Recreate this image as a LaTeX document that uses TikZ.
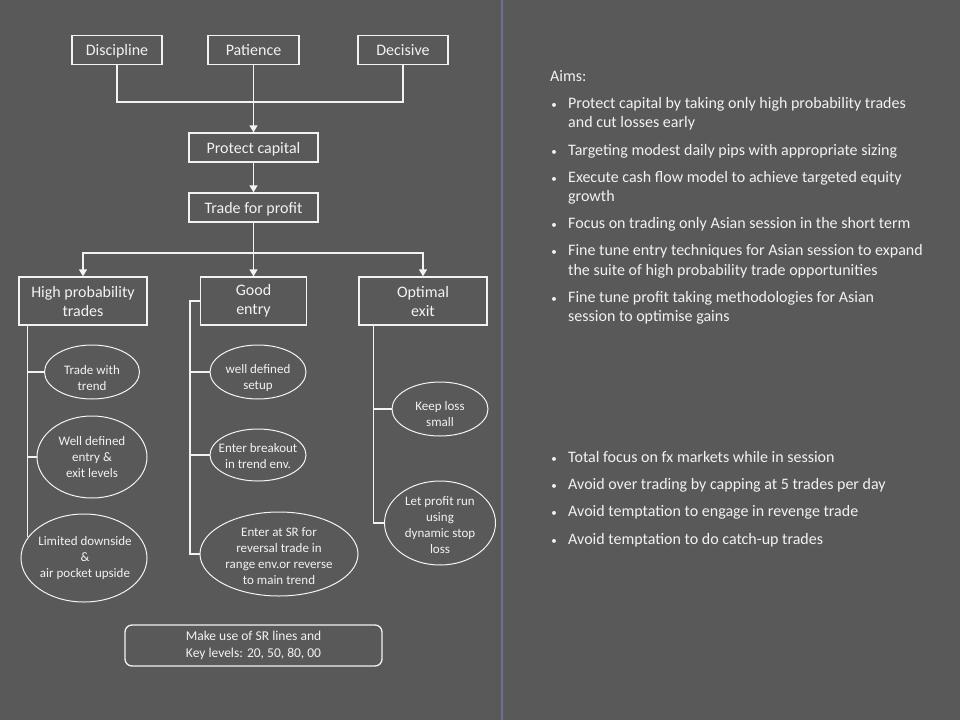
\documentclass[tikz,border=0pt]{standalone}
\usepackage{fontspec}
\setmainfont{Carlito}
\usetikzlibrary{shapes.geometric,arrows.meta}
\definecolor{slide}{HTML}{595959}
\definecolor{ink}{HTML}{F2F2F2}
\definecolor{rule}{HTML}{6C6F99}
\tikzset{
  box/.style={draw=ink, line width=1.3pt, text=ink, inner sep=0pt, align=center,
    font=\fontsize{16}{19}\selectfont},
  onebox/.style={box, text height=11.5pt, text depth=0pt},
  oval/.style={ellipse, draw=ink!85, line width=1pt, inner sep=0pt},
  otext/.style={text=ink, align=center, inner sep=0pt, font=\fontsize{13}{16}\selectfont},
  wire/.style={draw=ink, line width=1.3pt},
  arr/.style={wire, -{Triangle[width=8pt,length=7pt]}},
  line/.style={text=ink, anchor=base west, inner sep=0pt, font=\fontsize{16}{19}\selectfont},
  dot/.style={text=ink, anchor=base, inner sep=0pt, font=\fontsize{11}{13}\selectfont},
}
\begin{document}
\begin{tikzpicture}[x=1pt,y=-1pt]
  \fill[slide] (0,0) rectangle (960,720);
  \useasboundingbox (0,0) rectangle (960,720);
  \draw[rule, line width=1.6pt] (502,0) -- (502,720);

  % top qualities
  \node[onebox, minimum width=90, minimum height=29] (dis) at (117,50) {Discipline};
  \node[onebox, minimum width=91, minimum height=29] (pat) at (253.5,50) {Patience};
  \node[onebox, minimum width=90, minimum height=29] (dec) at (403,50) {Decisive};
  \node[onebox, minimum width=129, minimum height=29] (pc) at (253.5,147.5) {Protect capital};
  \node[onebox, minimum width=129, minimum height=29] (tp) at (253.5,207.5) {Trade for profit};

  \coordinate (j) at (253.5,102);
  \draw[wire] (dis.south) |- (j) -| (dec.south);
  \draw[arr] (pat.south) -- (pc.north);
  \draw[arr] (pc.south) -- (tp.north);

  % three pillars
  \node[box, minimum width=128, minimum height=48] (hp) at (83,301) {High probability\\trades};
  \node[box, minimum width=106, minimum height=48] (ge) at (253.5,301) {Good\\entry};
  \node[box, minimum width=128, minimum height=48] (oe) at (423,301) {Optimal\\exit};

  \coordinate (k) at (253.5,253);
  \draw[wire] (tp.south) -- (k);
  \draw[arr] (k) -| (hp.north);
  \draw[arr] (k) -- (ge.north);
  \draw[arr] (k) -| (oe.north);

  % high probability trades
  \node[oval, minimum width=95, minimum height=54] (t1) at (92,372) {};
  \node[otext] at ([yshift=-6pt]t1.center) {Trade with\\trend};
  \node[oval, minimum width=110, minimum height=82] (t2) at (92,457) {};
  \node[otext] at (t2) {Well defined\\entry \&\\exit levels};
  \node[oval, minimum width=126, minimum height=88] (t3) at (84,558) {};
  \node[otext] at ([xshift=1pt]t3.center) {Limited downside\\\&\\ air pocket upside};
  \coordinate (hpx) at ([xshift=9pt]hp.south west);
  \draw[wire] (hpx) |- (t1.west);
  \draw[wire] (hpx) |- (t2.west);
  \draw[wire] (hpx) -- (hpx |- t3.160);

  % good entry
  \node[oval, minimum width=96, minimum height=54] (e1) at (258,372) {};
  \node[otext] at ([yshift=-6pt]e1.center) {well defined\\setup};
  \node[oval, minimum width=96, minimum height=52] (e2) at (258,455) {};
  \node[otext] at ([yshift=-1.5pt]e2.center) {Enter breakout\\in trend env.};
  \node[oval, minimum width=158, minimum height=84] (e3) at (279,554) {};
  \node[otext] at ([yshift=-2pt]e3.center) {Enter at SR for\\reversal trade in\\range env.or reverse\\to main trend};
  \coordinate (gex) at ([xshift=-10pt]ge.west);
  \draw[wire] (ge.west) -- (gex) |- (e3.west);
  \draw[wire] (gex) |- (e1.west);
  \draw[wire] (gex) |- (e2.west);

  % optimal exit
  \node[oval, minimum width=96, minimum height=54] (o1) at (440,409) {};
  \node[otext] at ([yshift=-5pt]o1.center) {Keep loss\\small};
  \node[oval, minimum width=111, minimum height=84] (o2) at (440,523) {};
  \node[otext] at ([yshift=-2pt]o2.center) {Let profit run\\using\\dynamic stop\\loss};
  \coordinate (oex) at ([xshift=15pt]oe.south west);
  \draw[wire] (oex) |- (o2.west);
  \draw[wire] (oex) |- (o1.west);

  % key levels note
  \node[box, rounded corners=7pt, minimum width=257, minimum height=41,
        font=\fontsize{13.5}{17}\selectfont] (kl) at (253.5,645.5)
        {Make use of SR lines and\\Key levels: 20, 50, 80, 00};

  % aims
  \node[line] (aims) at (550,81) {Aims:};
  \node[dot] (b1) at (554,108) {•};
  \node[line] (a1) at (568,108) {Protect capital by taking only high probability trades};
  \node[line] (a1b) at (568,127) {and cut losses early};
  \node[dot] (b2) at (554,155) {•};
  \node[line] (a2) at (568,155) {Targeting modest daily pips with appropriate sizing};
  \node[dot] (b3) at (554,182) {•};
  \node[line] (a3) at (568,182) {Execute cash flow model to achieve targeted equity};
  \node[line] (a3b) at (568,201) {growth};
  \node[dot] (b4) at (554,228) {•};
  \node[line] (a4) at (568,228) {Focus on trading only Asian session in the short term};
  \node[dot] (b5) at (554,255) {•};
  \node[line] (a5) at (568,255) {Fine tune entry techniques for Asian session to expand};
  \node[line] (a5b) at (568,275) {the suite of high probability trade opportunities};
  \node[dot] (b6) at (554,302) {•};
  \node[line] (a6) at (568,302) {Fine tune profit taking methodologies for Asian};
  \node[line] (a6b) at (568,321) {session to optimise gains};

  % conduct
  \node[dot] (c1d) at (554,462) {•};
  \node[line] (c1) at (568,462) {Total focus on fx markets while in session};
  \node[dot] (c2d) at (554,489) {•};
  \node[line] (c2) at (568,489) {Avoid over trading by capping at 5 trades per day};
  \node[dot] (c3d) at (554,516) {•};
  \node[line] (c3) at (568,516) {Avoid temptation to engage in revenge trade};
  \node[dot] (c4d) at (554,544) {•};
  \node[line] (c4) at (568,544) {Avoid temptation to do catch-up trades};
\end{tikzpicture}
\end{document}
